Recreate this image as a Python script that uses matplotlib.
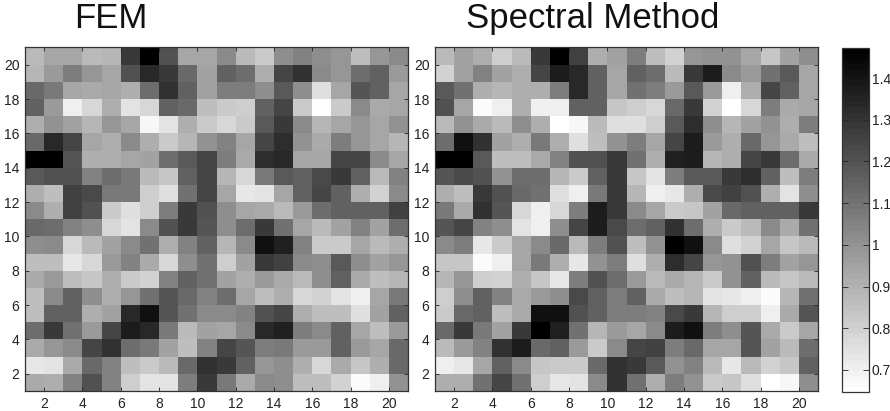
import numpy as np
import matplotlib
matplotlib.use("Agg")
import matplotlib.pyplot as plt

plt.rcParams['font.family'] = ['Liberation Sans', 'DejaVu Sans']

# values, first row is y=1
fem_rows = [
    [.92,.91,1.05,1.21,1.05,.81,.74,.74,1.07,1.29,1.08,.92,1.03,1.02,.86,.86,.79,.66,.70,1.00],
    [.73,.74,.92,1.13,1.05,.86,.82,.87,1.13,1.31,1.28,1.15,.99,1.02,.91,.78,.92,.84,.91,1.13],
    [.92,.99,1.03,1.25,1.31,1.12,1.08,.95,.86,1.05,1.25,1.20,1.07,1.08,.97,.97,1.15,.97,.94,1.13],
    [1.12,1.28,1.10,.97,1.25,1.38,1.34,1.08,.87,.95,.94,1.03,1.34,1.36,1.07,1.03,1.15,.94,.86,.97],
    [.86,1.15,1.15,.91,.95,1.34,1.41,1.20,1.10,1.03,1.03,1.05,1.21,1.25,.91,.86,.86,.76,.95,1.15],
    [.86,1.03,1.15,1.02,.91,.99,1.10,1.20,1.13,1.05,1.12,.94,.86,.91,.78,.79,.74,.71,.94,1.08],
    [.92,.97,.86,.84,.91,.82,.79,1.05,1.15,1.10,.95,.91,.97,.92,.87,1.02,1.15,.92,.86,.89],
    [.86,.86,.73,.78,.97,1.05,.92,.78,1.02,1.10,.81,.95,1.28,1.26,1.03,1.02,1.18,1.02,.95,.99],
    [1.02,1.03,.78,.87,.95,1.03,1.10,.91,1.05,1.15,.89,1.03,1.41,1.36,1.05,.82,.82,.94,.87,.91],
    [1.13,1.12,1.05,1.02,.78,.74,1.03,1.21,1.28,1.20,1.02,1.12,1.28,1.10,.94,.87,.95,1.05,.95,1.12],
    [1.03,.91,1.26,1.21,.82,.76,.81,1.07,1.28,1.21,1.02,.94,.92,.87,.97,1.12,1.16,1.15,1.15,1.26],
    [.91,.86,1.26,1.23,1.08,1.08,.81,.76,1.10,1.25,.94,.73,.74,.94,1.16,1.25,1.16,.91,.79,1.03],
    [1.18,1.21,1.21,1.05,1.12,1.08,.87,.84,1.15,1.25,.89,.78,1.08,1.18,1.15,1.23,1.28,1.15,.87,1.05],
    [1.46,1.47,1.20,.91,.91,.94,.95,1.12,1.18,1.25,1.07,.92,1.33,1.34,.94,.94,1.25,1.25,1.03,.94],
    [1.13,1.34,1.25,.94,.91,1.03,.91,.82,.89,1.00,1.05,.94,1.25,1.33,1.00,.92,1.07,.99,.94,.89],
    [.91,1.00,.95,.89,.99,.94,.68,.74,.91,.82,.78,.82,1.18,1.29,1.03,.89,.94,.99,.94,1.00],
    [1.16,.97,.70,.78,.91,.74,.78,1.16,1.13,.86,.82,.81,1.15,1.25,.82,.65,.82,1.03,.92,.94],
    [1.13,1.08,.94,.92,.94,.91,1.12,1.31,1.16,.95,1.07,1.07,1.02,1.18,1.02,.76,.94,1.20,1.15,.94],
    [.89,.97,1.07,.99,.94,1.21,1.34,1.29,1.13,.95,1.15,1.12,.91,1.25,1.31,1.03,.99,1.12,1.16,.97],
    [.87,.94,.94,.87,.89,1.28,1.47,1.21,.94,.94,1.03,.87,.82,1.02,1.05,1.02,.99,.86,.99,1.03],
]
spectral_rows = [
    [.91,.91,1.10,1.25,1.10,.81,.73,.74,1.03,1.31,1.10,.91,1.07,1.00,.82,.84,.76,.65,.68,1.02],
    [.70,.73,.94,1.15,1.03,.84,.82,.82,1.13,1.31,1.28,1.18,1.00,1.05,.87,.73,.87,.79,.84,1.15],
    [.87,.97,1.05,1.31,1.38,1.13,1.16,.97,.82,1.03,1.25,1.26,1.07,1.13,.94,.94,1.20,.95,.87,1.12],
    [1.13,1.29,1.08,.95,1.28,1.46,1.36,1.10,.89,.97,.94,1.03,1.38,1.41,1.07,1.02,1.20,.92,.82,.94],
    [.82,1.13,1.15,.86,.92,1.41,1.41,1.21,1.16,1.07,1.07,1.05,1.23,1.28,.89,.81,.81,.71,.92,1.20],
    [.81,1.02,1.16,1.05,.92,.97,1.02,1.23,1.15,1.07,1.15,.92,.86,.89,.74,.73,.70,.66,.89,1.10],
    [.89,.99,.81,.79,.91,.84,.73,1.07,1.21,1.12,.97,.87,.92,.89,.82,1.00,1.15,.87,.84,.87],
    [.84,.84,.66,.71,.94,1.08,.91,.73,1.00,1.07,.76,.91,1.33,1.25,.99,1.00,1.21,1.07,.95,.99],
    [1.03,1.07,.73,.82,.94,1.03,1.13,.87,1.07,1.21,.86,1.00,1.47,1.41,1.03,.76,.79,.94,.84,.87],
    [1.20,1.25,1.05,1.02,.74,.70,1.02,1.25,1.38,1.23,1.12,1.15,1.31,1.12,.91,.82,.87,1.03,.92,1.10],
    [1.08,.92,1.31,1.20,.78,.70,.78,1.07,1.38,1.28,1.03,.94,.82,.84,.95,1.13,1.15,1.15,1.15,1.29],
    [.91,.86,1.28,1.21,1.13,1.10,.76,.71,1.08,1.28,.89,.70,.73,.91,1.23,1.26,1.21,.91,.74,1.02],
    [1.20,1.23,1.21,1.00,1.12,1.12,.89,.82,1.15,1.28,.84,.74,1.07,1.18,1.18,1.28,1.33,1.16,.86,1.07],
    [1.47,1.47,1.18,.86,.86,.92,1.05,1.21,1.21,1.28,1.10,.91,1.36,1.38,.89,.91,1.25,1.28,1.12,.92],
    [1.12,1.41,1.31,.95,.91,1.08,.91,.76,.86,1.00,1.07,.94,1.25,1.38,.97,.91,1.13,.99,.92,.86],
    [.87,1.00,.92,.87,1.02,.91,.65,.68,.87,.76,.76,.81,1.18,1.33,1.02,.89,.95,1.00,.91,1.07],
    [1.21,.94,.66,.71,.91,.71,.71,1.16,1.15,.84,.81,.78,1.13,1.28,.79,.65,.78,1.07,.92,.94],
    [1.18,1.10,.91,.89,.91,.91,1.07,1.34,1.16,.94,1.10,1.07,.97,1.18,.97,.71,.91,1.25,1.16,.94],
    [.79,.95,1.05,.95,.91,1.25,1.38,1.34,1.15,.94,1.16,1.12,.87,1.28,1.38,1.03,.97,1.10,1.18,.94],
    [.87,.95,.91,.81,.87,1.28,1.47,1.26,.91,.95,1.07,.86,.79,.99,1.00,1.00,.94,.84,.95,1.02],
]
titles = ["FEM", "Spectral Method"]
grid_ticks = [2, 4, 6, 8, 10, 12, 14, 16, 18, 20]
cbar_ticks = [0.7, 0.8, 0.9, 1.0, 1.1, 1.2, 1.3, 1.4]
cbar_labels = ["0.7", "0.8", "0.9", "1", "1.1", "1.2", "1.3", "1.4"]
vmin, vmax = 0.647, 1.472

W, H = 890, 411
fig = plt.figure(figsize=(W / 100, H / 100), dpi=100)

def px_axes(left, top, right, bottom):
    return fig.add_axes([left / W, 1 - bottom / H, (right - left) / W, (bottom - top) / H])

cmap = plt.get_cmap("gray_r", 64)
edges = np.arange(1, 22)
boxes = [(25, 47.5, 408, 391), (435, 47.5, 818, 391)]
title_x = [111, 593]
mesh = None
for rows, title, box, tx in zip([fem_rows, spectral_rows], titles, boxes, title_x):
    ax = px_axes(*box)
    mesh = ax.pcolormesh(edges, edges, np.array(rows), cmap=cmap, vmin=vmin, vmax=vmax)
    ax.set_xticks(grid_ticks)
    ax.set_yticks(grid_ticks)
    ax.tick_params(direction="in", length=3, width=0.6, labelsize=10, pad=4, colors="#222222", top=True, right=True)
    for s in ax.spines.values():
        s.set_linewidth(0.9)
        s.set_color("#333333")
    fig.text(tx / W, 1 - 18.5 / H, title, fontsize=25, ha="center", va="center", color="#111111")

# 色条
cax = px_axes(842, 48, 869, 392)
cb = fig.colorbar(mesh, cax=cax)
cb.set_ticks(cbar_ticks)
cb.set_ticklabels(cbar_labels)
cb.ax.tick_params(which="both", direction="in", length=4, width=0.6, labelsize=10, pad=2, colors="#222222", left=True, right=True)
cb.minorticks_off()
cb.outline.set_linewidth(0.9)
cb.outline.set_edgecolor("#333333")

fig.savefig("out.png", dpi=100)
